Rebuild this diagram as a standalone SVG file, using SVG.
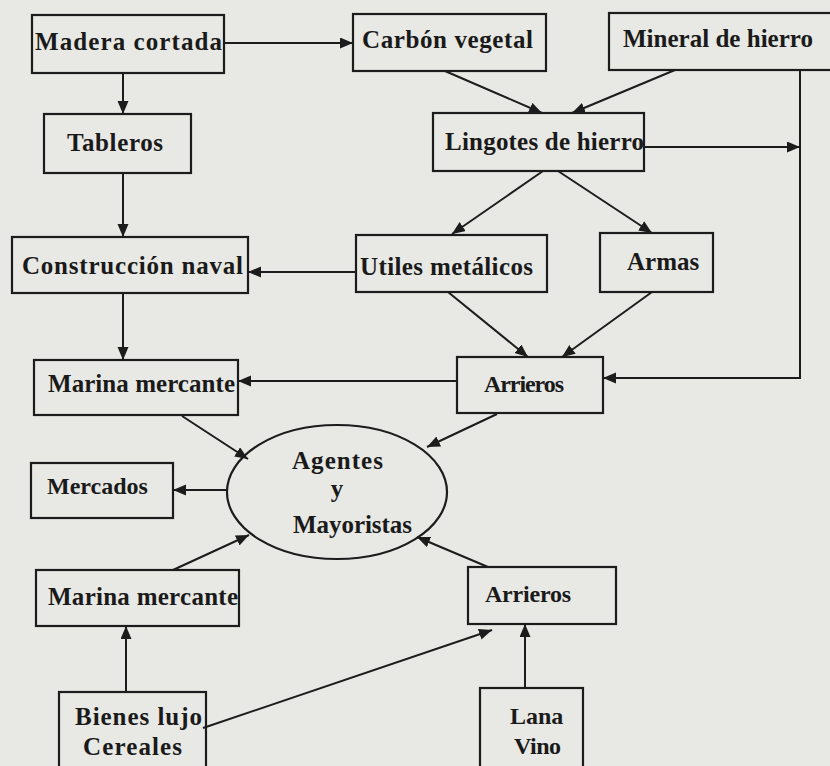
<svg xmlns="http://www.w3.org/2000/svg" width="830" height="766" viewBox="0 0 830 766">
<defs>
<style>
.bg{fill:#e8e8e4}
.box{fill:none;stroke:#1c1c1c;stroke-width:2.2}
.t{font-family:"Liberation Serif","Times New Roman",serif;font-weight:bold;font-size:25px;fill:#1a1a1a}
.c{fill:none;stroke:#1c1c1c;stroke-width:2}
</style>
<marker id="ah" markerUnits="userSpaceOnUse" markerWidth="14" markerHeight="12" refX="13" refY="5.5" orient="auto">
<path d="M0,0 L13,5.5 L0,11 z" fill="#1c1c1c"/>
</marker>
</defs>
<rect class="bg" x="0" y="0" width="830" height="766"/>

<g id="connectors">
<line class="c" x1="224" y1="43" x2="353" y2="43" marker-end="url(#ah)"/>
<line class="c" x1="123" y1="73" x2="123" y2="114" marker-end="url(#ah)"/>
<line class="c" x1="123" y1="173" x2="123" y2="237" marker-end="url(#ah)"/>
<line class="c" x1="445" y1="71" x2="542" y2="113" marker-end="url(#ah)"/>
<line class="c" x1="675" y1="70" x2="572" y2="113" marker-end="url(#ah)"/>
<line class="c" x1="644" y1="147" x2="800" y2="147" marker-end="url(#ah)"/>
<polyline class="c" points="800,70 800,378 603,378" marker-end="url(#ah)"/>
<line class="c" x1="543" y1="171" x2="452" y2="234" marker-end="url(#ah)"/>
<line class="c" x1="558" y1="171" x2="652" y2="233" marker-end="url(#ah)"/>
<line class="c" x1="356" y1="272" x2="248" y2="272" marker-end="url(#ah)"/>
<line class="c" x1="448" y1="292" x2="528" y2="357" marker-end="url(#ah)"/>
<line class="c" x1="652" y1="292" x2="562" y2="357" marker-end="url(#ah)"/>
<line class="c" x1="457" y1="381" x2="238" y2="381" marker-end="url(#ah)"/>
<line class="c" x1="123" y1="293" x2="123" y2="360" marker-end="url(#ah)"/>
<line class="c" x1="182" y1="416" x2="248" y2="459" marker-end="url(#ah)"/>
<line class="c" x1="497" y1="414" x2="427" y2="447" marker-end="url(#ah)"/>
<line class="c" x1="227" y1="490" x2="173" y2="490" marker-end="url(#ah)"/>
<line class="c" x1="173" y1="570" x2="249" y2="535" marker-end="url(#ah)"/>
<line class="c" x1="488" y1="567" x2="417" y2="537" marker-end="url(#ah)"/>
<line class="c" x1="126" y1="692" x2="126" y2="626" marker-end="url(#ah)"/>
<line class="c" x1="203" y1="728" x2="492" y2="630" marker-end="url(#ah)"/>
<line class="c" x1="525" y1="688" x2="525" y2="624" marker-end="url(#ah)"/>
</g>

<g id="madera"><rect class="box" x="32" y="15" width="192" height="58"/><text class="t" x="35" y="50" textLength="187" lengthAdjust="spacing">Madera cortada</text></g>
<g id="carbon"><rect class="box" x="353" y="14" width="193" height="57"/><text class="t" x="362" y="48" textLength="171" lengthAdjust="spacing">Carbón vegetal</text></g>
<g id="mineral"><rect class="box" x="609" y="13" width="230" height="57"/><text class="t" x="623" y="47" textLength="190" lengthAdjust="spacing">Mineral de hierro</text></g>
<g id="tableros"><rect class="box" x="44" y="114" width="147" height="59"/><text class="t" x="67" y="151" textLength="96" lengthAdjust="spacing">Tableros</text></g>
<g id="lingotes"><rect class="box" x="433" y="113" width="211" height="58"/><text class="t" x="445" y="150" textLength="199" lengthAdjust="spacing">Lingotes de hierro</text></g>
<g id="construccion"><rect class="box" x="12" y="237" width="236" height="56"/><text class="t" x="22" y="274" textLength="221" lengthAdjust="spacing">Construcción naval</text></g>
<g id="utiles"><rect class="box" x="356" y="235" width="191" height="57"/><text class="t" x="360" y="275" textLength="173" lengthAdjust="spacing">Utiles metálicos</text></g>
<g id="armas"><rect class="box" x="600" y="233" width="113" height="59"/><text class="t" x="627" y="270">Armas</text></g>
<g id="marina1"><rect class="box" x="34" y="360" width="204" height="55"/><text class="t" x="48" y="392" textLength="187" lengthAdjust="spacing">Marina mercante</text></g>
<g id="arrieros1"><rect class="box" x="457" y="357" width="146" height="56"/><text class="t" x="484" y="392" style="font-size:24px" textLength="80" lengthAdjust="spacing">Arrieros</text></g>
<g id="agentes"><ellipse class="box" cx="337" cy="492" rx="110" ry="67"/>
<text class="t" x="292" y="469" textLength="91" lengthAdjust="spacing">Agentes</text>
<text class="t" x="337" y="497" text-anchor="middle">y</text>
<text class="t" x="293" y="533" textLength="119" lengthAdjust="spacing">Mayoristas</text></g>
<g id="mercados"><rect class="box" x="31" y="463" width="142" height="55"/><text class="t" x="47" y="494" style="font-size:24px">Mercados</text></g>
<g id="marina2"><rect class="box" x="36" y="570" width="203" height="56"/><text class="t" x="48" y="605" textLength="190" lengthAdjust="spacing">Marina mercante</text></g>
<g id="arrieros2"><rect class="box" x="468" y="567" width="148" height="57"/><text class="t" x="485" y="602" style="font-size:24px" textLength="86" lengthAdjust="spacing">Arrieros</text></g>
<g id="bienes"><rect class="box" x="59" y="692" width="147" height="90"/><text class="t" x="75" y="725" textLength="127" lengthAdjust="spacing">Bienes lujo</text><text class="t" x="83" y="755" textLength="99" lengthAdjust="spacing">Cereales</text></g>
<g id="lana"><rect class="box" x="480" y="688" width="103" height="94"/><text class="t" x="510" y="724" style="font-size:24px">Lana</text><text class="t" x="514" y="754" style="font-size:24px" textLength="47" lengthAdjust="spacing">Vino</text></g>
</svg>
